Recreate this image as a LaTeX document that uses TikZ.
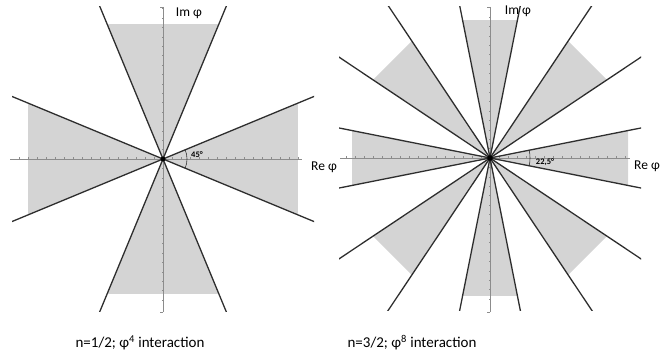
\documentclass[tikz,border=0pt]{standalone}
\usepackage{fontspec}
\setmainfont{Carlito}
\usetikzlibrary{calc}

\tikzset{
  wedgefill/.style={fill=black!17},
  bound/.style={draw=black!82, line width=1.3pt},
  axis/.style={draw=black!45, line width=0.6pt},
  ticks/.style={draw=black!45, line width=0.4pt},
  lbl/.style={font=\fontsize{13.5}{15}\selectfont, inner sep=1pt},
  anglbl/.style={font=\bfseries\fontsize{8.5}{10}\selectfont, inner sep=0.5pt},
  caption/.style={font=\fontsize{15}{17}\selectfont, inner sep=1pt}
}

\begin{document}
\begin{tikzpicture}[x=1pt,y=-1pt]
\useasboundingbox (0,0) rectangle (663,358);
\coordinate (L) at (163,159);
\coordinate (R) at (490,158);

% shaded wedges
\foreach \c in {0,90,180,270}
  \fill[wedgefill] (L) -- ($(L)+(\c-22.5:146.1)$) -- ($(L)+(\c+22.5:146.1)$) -- cycle;
\foreach \c in {0,45,...,315}
  \fill[wedgefill] (R) -- ($(R)+(\c-11.25:140.7)$) -- ($(R)+(\c+11.25:140.7)$) -- cycle;

% axes
\draw[axis] (10,159) -- (302,159);
\draw[axis] (163,7) -- (163,312);
\draw[axis] (340,158) -- (630,158);
\draw[axis] (490,7) -- (490,312);
\foreach \i in {-16,...,15} {
  \draw[ticks] ($(L)+(\i*9,-1.5)$) -- ++(0,3);
  \draw[ticks] ($(L)+(-1,\i*9.4)$) -- ++(2,0);
  \draw[ticks] ($(R)+(\i*9,-1.5)$) -- ++(0,3);
  \draw[ticks] ($(R)+(-1,\i*9.4)$) -- ++(2,0);
}
\draw[ticks] (160,7) -- (163,7); \draw[ticks] (160,312) -- (163,312);
\draw[ticks] (487,7) -- (490,7); \draw[ticks] (487,312) -- (490,312);

% wedge boundaries
\begin{scope}
  \clip ($(L)+(-151,-152)$) rectangle ($(L)+(151,152)$);
  \foreach \a in {22.5,67.5,...,337.5}
    \draw[bound] (L) -- ($(L)+(\a:260)$);
\end{scope}
\begin{scope}
  \clip ($(R)+(-151,-151)$) rectangle ($(R)+(151,152)$);
  \foreach \a in {11.25,33.75,...,348.75}
    \draw[bound] (R) -- ($(R)+(\a:260)$);
\end{scope}
\fill[black] (L) circle (2.4);
\fill[black] (R) circle (2.8);

% angle marks
\draw[black!80, line width=0.6pt] ($(L)+(-22.5:24)$) arc[start angle=-22.5, end angle=22.5, radius=24];
\draw[black!80, line width=0.6pt] ($(R)+(-11.25:40)$) arc[start angle=-11.25, end angle=11.25, radius=40];
\node[anglbl] (angL) at (197,155) {45°};
\node[anglbl] (angR) at (545,162) {22,5°};

% axis labels
\node[lbl] (imL) at (189,13) {Im φ};
\node[lbl] (reL) at (324,167) {Re φ};
\node[lbl] (imR) at (518,11) {Im φ};
\node[lbl] (reR) at (647,166) {Re φ};

% captions
\node[caption] (capL) at (140,343) {n=1/2; φ\textsuperscript{4} interaction};
\node[caption] (capR) at (412,343) {n=3/2; φ\textsuperscript{8} interaction};
\end{tikzpicture}
\end{document}
